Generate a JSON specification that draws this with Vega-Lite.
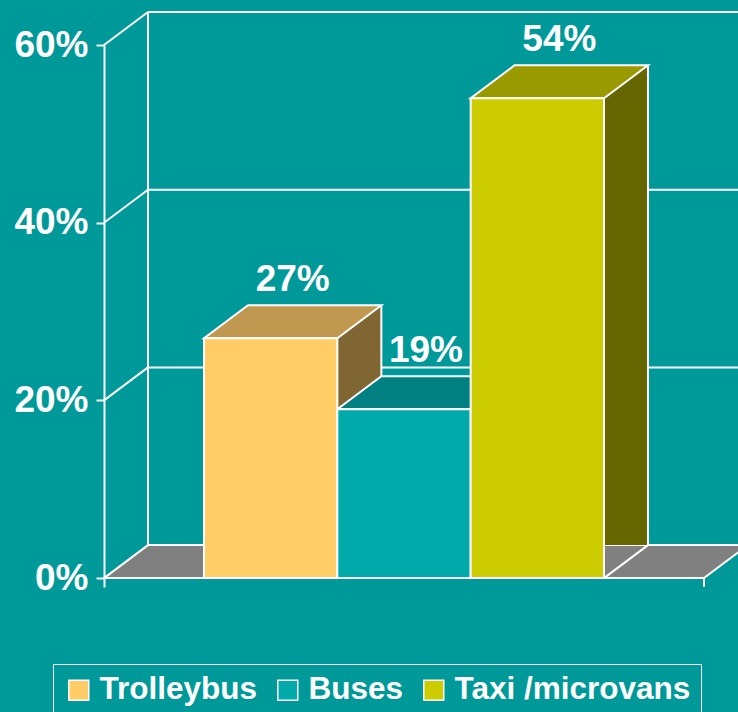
{
  "$schema": "https://vega.github.io/schema/vega-lite/v6.json",
  "width": 600,
  "height": 542,
  "autosize": {"type": "none"},
  "padding": {"left": 104, "top": 45, "right": 34, "bottom": 125},
  "background": "#009999",
  "config": {
    "view": {"stroke": null},
    "font": "Liberation Sans",
    "axis": {"grid": false},
    "legend": {
      "orient": "none",
      "legendX": -51,
      "legendY": 619,
      "direction": "horizontal",
      "strokeColor": "white",
      "padding": 10,
      "labelFont": "Liberation Sans",
      "labelFontWeight": "bold",
      "labelFontSize": 31.5,
      "labelColor": "white",
      "labelLimit": 500,
      "symbolType": "square",
      "symbolSize": 400,
      "symbolStrokeColor": "white",
      "symbolStrokeWidth": 1.5,
      "symbolOpacity": 1,
      "labelOffset": 5,
      "columnPadding": 14
    }
  },
  "datasets": {
    "shares": [
      {"mode": "Trolleybus", "share": 0.27},
      {"mode": "Buses", "share": 0.19},
      {"mode": "Taxi /microvans", "share": 0.54}
    ],
    "ticks": [{"tick": 0.2}, {"tick": 0.4}, {"tick": 0.6}],
    "one": [{}]
  },
  "layer": [
    {
      "data": {"name": "one"},
      "mark": {"type": "point", "shape": "M0,0 L44,-33 L644,-33 L600,0 Z", "size": 4, "filled": true, "fill": "#808080", "stroke": "white", "strokeWidth": 2, "opacity": 1},
      "encoding": {
        "x": {"value": 0},
        "y": {"datum": 0, "type": "quantitative", "scale": {"domain": [-0.01, 0.6], "nice": false, "zero": false},
          "axis": {"values": [0, 0.2, 0.4, 0.6], "format": ".0%", "title": null, "grid": false, "domainColor": "white", "domainWidth": 2, "tickColor": "white", "tickWidth": 2, "tickSize": 8, "labelPadding": 8, "labelFont": "Liberation Sans", "labelFontWeight": "bold", "labelFontSize": 37, "labelColor": "white", "labelOverlap": false}}
      }
    },
    {
      "data": {"name": "ticks"},
      "mark": {"type": "rule", "stroke": "white", "strokeWidth": 2, "yOffset": -33},
      "encoding": {
        "x": {"value": 44},
        "x2": {"value": 644},
        "y": {"field": "tick", "type": "quantitative", "scale": {"domain": [-0.01, 0.6], "nice": false, "zero": false},
          "axis": {"values": [0, 0.2, 0.4, 0.6], "format": ".0%", "title": null, "grid": false, "domainColor": "white", "domainWidth": 2, "tickColor": "white", "tickWidth": 2, "tickSize": 8, "labelPadding": 8, "labelFont": "Liberation Sans", "labelFontWeight": "bold", "labelFontSize": 37, "labelColor": "white", "labelOverlap": false}}
      }
    },
    {
      "data": {"name": "one"},
      "mark": {"type": "rule", "stroke": "white", "strokeWidth": 2, "yOffset": -33, "y2Offset": -33},
      "encoding": {
        "x": {"value": 44},
        "y": {"datum": 0, "type": "quantitative", "scale": {"domain": [-0.01, 0.6], "nice": false, "zero": false},
          "axis": {"values": [0, 0.2, 0.4, 0.6], "format": ".0%", "title": null, "grid": false, "domainColor": "white", "domainWidth": 2, "tickColor": "white", "tickWidth": 2, "tickSize": 8, "labelPadding": 8, "labelFont": "Liberation Sans", "labelFontWeight": "bold", "labelFontSize": 37, "labelColor": "white", "labelOverlap": false}},
        "y2": {"datum": 0.6}
      }
    },
    {
      "data": {"name": "ticks"},
      "mark": {"type": "point", "shape": "M0,0 L44,-33", "size": 4, "filled": false, "stroke": "white", "strokeWidth": 2, "opacity": 1},
      "encoding": {
        "x": {"value": 0},
        "y": {"field": "tick", "type": "quantitative", "scale": {"domain": [-0.01, 0.6], "nice": false, "zero": false},
          "axis": {"values": [0, 0.2, 0.4, 0.6], "format": ".0%", "title": null, "grid": false, "domainColor": "white", "domainWidth": 2, "tickColor": "white", "tickWidth": 2, "tickSize": 8, "labelPadding": 8, "labelFont": "Liberation Sans", "labelFontWeight": "bold", "labelFontSize": 37, "labelColor": "white", "labelOverlap": false}}
      }
    },
    {
      "data": {"name": "one"},
      "mark": {"type": "rule", "stroke": "white", "strokeWidth": 2},
      "encoding": {
        "x": {"value": 600},
        "y": {"datum": 0, "type": "quantitative", "scale": {"domain": [-0.01, 0.6], "nice": false, "zero": false},
          "axis": {"values": [0, 0.2, 0.4, 0.6], "format": ".0%", "title": null, "grid": false, "domainColor": "white", "domainWidth": 2, "tickColor": "white", "tickWidth": 2, "tickSize": 8, "labelPadding": 8, "labelFont": "Liberation Sans", "labelFontWeight": "bold", "labelFontSize": 37, "labelColor": "white", "labelOverlap": false}},
        "y2": {"datum": -0.01}
      }
    },
    {
      "data": {"name": "shares"},
      "mark": {"type": "bar", "width": 44, "xOffset": 88.67, "yOffset": -33, "opacity": 1},
      "encoding": {
        "x": {"field": "mode", "type": "nominal", "sort": null, "scale": {"type": "band", "domain": ["Trolleybus", "Buses", "Taxi /microvans"], "paddingInner": 0, "paddingOuter": 0.75}, "axis": null},
        "y": {"field": "share", "type": "quantitative", "scale": {"domain": [-0.01, 0.6], "nice": false, "zero": false},
          "axis": {"values": [0, 0.2, 0.4, 0.6], "format": ".0%", "title": null, "grid": false, "domainColor": "white", "domainWidth": 2, "tickColor": "white", "tickWidth": 2, "tickSize": 8, "labelPadding": 8, "labelFont": "Liberation Sans", "labelFontWeight": "bold", "labelFontSize": 37, "labelColor": "white", "labelOverlap": false}},
        "fill": {"field": "mode", "type": "nominal", "sort": null, "scale": {"domain": ["Trolleybus", "Buses", "Taxi /microvans"], "range": ["#806633", "#005555", "#666600"]}, "legend": null}
      }
    },
    {
      "data": {"name": "shares"},
      "mark": {"type": "rule", "stroke": "white", "strokeWidth": 2, "xOffset": 110.67, "yOffset": -33, "y2Offset": -33},
      "encoding": {
        "x": {"field": "mode", "type": "nominal", "sort": null, "scale": {"type": "band", "domain": ["Trolleybus", "Buses", "Taxi /microvans"], "paddingInner": 0, "paddingOuter": 0.75}, "axis": null},
        "y": {"field": "share", "type": "quantitative", "scale": {"domain": [-0.01, 0.6], "nice": false, "zero": false},
          "axis": {"values": [0, 0.2, 0.4, 0.6], "format": ".0%", "title": null, "grid": false, "domainColor": "white", "domainWidth": 2, "tickColor": "white", "tickWidth": 2, "tickSize": 8, "labelPadding": 8, "labelFont": "Liberation Sans", "labelFontWeight": "bold", "labelFontSize": 37, "labelColor": "white", "labelOverlap": false}},
        "y2": {"datum": 0}
      }
    },
    {
      "data": {"name": "shares"},
      "mark": {"type": "point", "shape": "M110.67,0 L66.67,0 L110.67,-33", "size": 4, "filled": true, "fill": "#808080", "stroke": "white", "strokeWidth": 2, "opacity": 1},
      "encoding": {
        "x": {"field": "mode", "type": "nominal", "sort": null, "scale": {"type": "band", "domain": ["Trolleybus", "Buses", "Taxi /microvans"], "paddingInner": 0, "paddingOuter": 0.75}, "axis": null},
        "y": {"datum": 0, "type": "quantitative", "scale": {"domain": [-0.01, 0.6], "nice": false, "zero": false},
          "axis": {"values": [0, 0.2, 0.4, 0.6], "format": ".0%", "title": null, "grid": false, "domainColor": "white", "domainWidth": 2, "tickColor": "white", "tickWidth": 2, "tickSize": 8, "labelPadding": 8, "labelFont": "Liberation Sans", "labelFontWeight": "bold", "labelFontSize": 37, "labelColor": "white", "labelOverlap": false}}
      }
    },
    {
      "data": {"name": "shares"},
      "mark": {"type": "point", "shape": "M-66.67,0 L66.67,0 L110.67,-33 L-22.67,-33 Z", "size": 4, "filled": true, "stroke": "white", "strokeWidth": 2, "strokeJoin": "miter", "opacity": 1},
      "encoding": {
        "x": {"field": "mode", "type": "nominal", "sort": null, "scale": {"type": "band", "domain": ["Trolleybus", "Buses", "Taxi /microvans"], "paddingInner": 0, "paddingOuter": 0.75}, "axis": null},
        "y": {"field": "share", "type": "quantitative", "scale": {"domain": [-0.01, 0.6], "nice": false, "zero": false},
          "axis": {"values": [0, 0.2, 0.4, 0.6], "format": ".0%", "title": null, "grid": false, "domainColor": "white", "domainWidth": 2, "tickColor": "white", "tickWidth": 2, "tickSize": 8, "labelPadding": 8, "labelFont": "Liberation Sans", "labelFontWeight": "bold", "labelFontSize": 37, "labelColor": "white", "labelOverlap": false}},
        "fill": {"field": "mode", "type": "nominal", "sort": null, "scale": {"domain": ["Trolleybus", "Buses", "Taxi /microvans"], "range": ["#C09850", "#008080", "#999900"]}, "legend": null}
      }
    },
    {
      "data": {"name": "shares"},
      "mark": {"type": "bar", "stroke": "white", "strokeWidth": 2, "strokeJoin": "miter", "opacity": 1},
      "encoding": {
        "x": {"field": "mode", "type": "nominal", "sort": null, "scale": {"type": "band", "domain": ["Trolleybus", "Buses", "Taxi /microvans"], "paddingInner": 0, "paddingOuter": 0.75}, "axis": null},
        "y": {"field": "share", "type": "quantitative", "scale": {"domain": [-0.01, 0.6], "nice": false, "zero": false},
          "axis": {"values": [0, 0.2, 0.4, 0.6], "format": ".0%", "title": null, "grid": false, "domainColor": "white", "domainWidth": 2, "tickColor": "white", "tickWidth": 2, "tickSize": 8, "labelPadding": 8, "labelFont": "Liberation Sans", "labelFontWeight": "bold", "labelFontSize": 37, "labelColor": "white", "labelOverlap": false}},
        "color": {"field": "mode", "type": "nominal", "sort": null, "scale": {"domain": ["Trolleybus", "Buses", "Taxi /microvans"], "range": ["#FFCC66", "#00AAAA", "#CCCC00"]}, "legend": {"title": null}}
      }
    },
    {
      "data": {"name": "shares"},
      "mark": {"type": "text", "dx": 22, "dy": -47, "align": "center", "baseline": "alphabetic", "font": "Liberation Sans", "fontWeight": "bold", "fontSize": 37, "fill": "white"},
      "encoding": {
        "x": {"field": "mode", "type": "nominal", "sort": null, "scale": {"type": "band", "domain": ["Trolleybus", "Buses", "Taxi /microvans"], "paddingInner": 0, "paddingOuter": 0.75}, "axis": null},
        "y": {"field": "share", "type": "quantitative", "scale": {"domain": [-0.01, 0.6], "nice": false, "zero": false},
          "axis": {"values": [0, 0.2, 0.4, 0.6], "format": ".0%", "title": null, "grid": false, "domainColor": "white", "domainWidth": 2, "tickColor": "white", "tickWidth": 2, "tickSize": 8, "labelPadding": 8, "labelFont": "Liberation Sans", "labelFontWeight": "bold", "labelFontSize": 37, "labelColor": "white", "labelOverlap": false}},
        "text": {"field": "share", "type": "quantitative", "format": ".0%"}
      }
    }
  ],
  "resolve": {"scale": {"fill": "independent"}}
}
